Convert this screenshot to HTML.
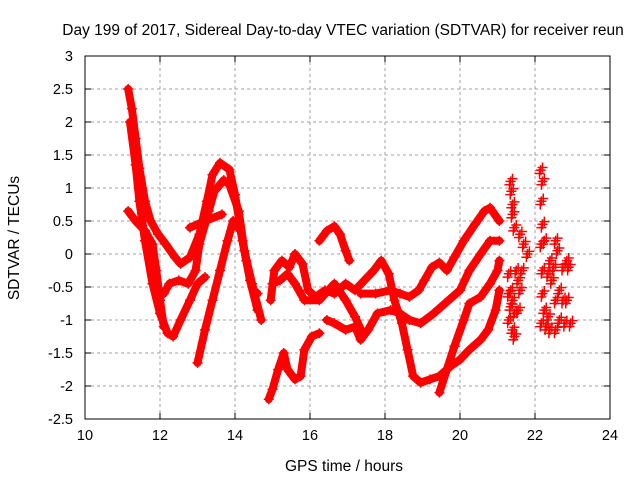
<!DOCTYPE html>
<html><head><meta charset="utf-8"><style>
body{margin:0;background:#fff;}
svg{display:block;font-family:"Liberation Sans",sans-serif;}
</style></head><body>
<svg id="chart" width="640" height="480">
<text x="343" y="35" font-size="15.5" text-anchor="middle">Day 199 of 2017, Sidereal Day-to-day VTEC variation (SDTVAR) for receiver reun</text>
<text x="344" y="471" font-size="15.5" text-anchor="middle">GPS time / hours</text>
<text transform="translate(19,238) rotate(-90)" font-size="15.5" text-anchor="middle">SDTVAR / TECUs</text>
<g id="grid"></g>
<g id="ticks"></g>
<g id="marks"></g>
<rect x="85" y="56" width="525" height="363" fill="none" stroke="#000" stroke-width="1"></rect>
</svg>
<script>
const xTicks=[10,12,14,16,18,20,22,24];
const yTicks=[3,2.5,2,1.5,1,0.5,0,-0.5,-1,-1.5,-2,-2.5];
const trackA=[[11.15,2.5],[11.25,2.2],[11.35,1.75],[11.45,1.3],[11.6,0.8],[11.75,0.5],[11.95,0.3],[12.15,0.15],[12.4,-0.05],[12.55,-0.15],[12.8,-0.05],[13.05,0.3],[13.25,0.8],[13.4,1.2],[13.6,1.38],[13.85,1.28],[14.0,0.9],[14.2,0.2],[14.4,-0.4],[14.6,-0.85]];
const trackB=[[11.2,2.0],[11.35,1.35],[11.45,0.8],[11.6,0.2],[11.8,-0.45],[12.0,-0.9],[12.2,-1.2],[12.35,-1.25],[12.55,-1.0],[12.8,-0.7],[13.0,-0.45],[13.2,-0.35]];
const trackC=[[11.15,0.65],[11.35,0.5],[11.6,0.35],[11.8,0.15],[11.9,-0.25],[12.0,-0.7],[12.1,-1.1]];
const trackC2=[[12.1,-0.6],[12.25,-0.45],[12.5,-0.4],[12.75,-0.45],[12.95,-0.25],[13.05,0.15],[13.3,0.65],[13.45,0.95],[13.7,1.12],[13.85,1.05],[14.1,0.65],[14.25,0.05],[14.45,-0.45],[14.7,-1.0]];
const trackD=[[13.0,-1.65],[13.2,-1.15],[13.4,-0.7],[13.6,-0.25],[13.8,0.2],[13.95,0.5],[14.15,0.35],[14.3,-0.1],[14.5,-0.55],[14.6,-0.6]];
const trackS=[[12.8,0.4],[13.2,0.5],[13.65,0.6]];
const trackE=[[14.95,-0.7],[15.05,-0.25],[15.25,-0.1],[15.45,-0.2],[15.6,0.0],[15.8,-0.15],[15.95,-0.55],[16.15,-0.65],[16.4,-0.55],[16.65,-0.6],[16.95,-0.45],[17.2,-0.55],[17.45,-0.4],[17.7,-0.25],[17.9,-0.1],[18.1,-0.3],[18.25,-0.7],[18.45,-1.05],[18.6,-1.45],[18.75,-1.85],[18.95,-1.95],[19.2,-1.9],[19.45,-1.85],[19.75,-1.7],[20.0,-1.6],[20.25,-1.45],[20.55,-1.3],[20.75,-1.15],[20.95,-0.85],[21.05,-0.55]];
const trackF=[[15.0,-0.45],[15.2,-0.4],[15.4,-0.3],[15.6,-0.45],[15.85,-0.7],[16.25,-0.7],[16.65,-0.45],[16.95,-0.7],[17.2,-0.95],[17.4,-1.2]];
const trackG=[[14.9,-2.2],[15.0,-2.05],[15.15,-1.75],[15.3,-1.5],[15.4,-1.75],[15.6,-1.9],[15.75,-1.85],[15.85,-1.45],[16.05,-1.25],[16.25,-1.2]];
const trackH=[[16.45,-1.0],[16.65,-1.05],[16.95,-1.15],[17.2,-1.1],[17.35,-1.3],[17.55,-1.15],[17.8,-0.9],[18.15,-0.85],[18.4,-0.9],[18.65,-1.0],[18.95,-1.05],[19.3,-0.9],[19.6,-0.75],[20.0,-0.55],[20.25,-0.25],[20.55,0.0],[20.8,0.2],[21.05,0.2]];
const trackI=[[17.35,-0.6],[17.75,-0.6],[18.15,-0.55],[18.4,-0.6],[18.65,-0.65],[18.9,-0.55],[19.05,-0.4],[19.25,-0.2],[19.45,-0.13],[19.65,-0.25],[19.85,-0.05],[20.1,0.2],[20.4,0.45],[20.65,0.65],[20.8,0.7],[21.05,0.5]];
const trackJ=[[19.45,-2.1],[19.65,-1.75],[19.85,-1.4],[20.1,-1.0],[20.25,-0.75],[20.55,-0.65],[20.8,-0.45],[21.0,-0.25],[21.05,-0.1]];
const trackK=[[16.25,0.2],[16.45,0.35],[16.65,0.42],[16.8,0.3],[16.95,0.05],[17.05,-0.1]];
const clusterR1=[[21.35,1.1],[21.37,0.95],[21.4,0.75],[21.4,0.6],[21.45,0.4],[21.6,0.3],[21.7,0.15],[21.8,0.0],[21.3,-0.3],[21.35,-0.55],[21.4,-0.7],[21.3,-1.0],[21.4,-1.15],[21.45,-1.25],[21.55,-0.85],[21.6,-0.55],[21.5,-0.25],[21.65,-0.25],[21.3,-0.6],[21.45,-0.9],[21.55,-0.4],[21.35,-0.8]];
const clusterR2=[[22.15,1.27],[22.2,1.1],[22.17,0.8],[22.2,0.45],[22.17,0.15],[22.25,0.2],[22.2,-0.25],[22.2,-0.6],[22.17,-1.05],[22.35,-0.95],[22.55,-1.15],[22.8,-1.05],[22.95,-1.05],[22.55,0.2],[22.6,0.05],[22.4,-0.1],[22.45,-0.4],[22.75,-0.2],[22.85,-0.1],[22.85,-0.7],[22.75,-0.7],[22.55,-0.7],[22.4,-1.15],[22.65,-0.55],[22.25,-0.85],[22.5,-0.2],[22.35,-0.3],[22.65,-1.0],[22.3,-1.1],[22.9,-0.2]];
const tracks=[trackA,trackB,trackC,trackC2,trackD,trackS,trackE,trackF,trackG,trackH,trackI,trackJ,trackK];
const clusters=[clusterR1,clusterR2];

const NS='http://www.w3.org/2000/svg';
const X0=85,X1=610,Y0=56,Y1=419;
const xs=h=>X0+(h-10)/(24-10)*(X1-X0);
const ys=v=>Y0+(3-v)/(3+2.5)*(Y1-Y0);
const grid=document.getElementById('grid'),ticks=document.getElementById('ticks'),marks=document.getElementById('marks');
function mk(t,a,p){const e=document.createElementNS(NS,t);for(const k in a)e.setAttribute(k,a[k]);p.appendChild(e);return e;}
xTicks.forEach(t=>{
 const x=xs(t);
 if(t>10&&t<24){const g=mk('line',{x1:x,x2:x,y1:Y0,y2:Y1,stroke:'#a0a0a0','stroke-dasharray':'3,3'},grid);
 
 }
 mk('line',{x1:x,x2:x,y1:Y1,y2:Y1-6,stroke:'#000'},ticks);mk('line',{x1:x,x2:x,y1:Y0,y2:Y0+6,stroke:'#000'},ticks);
 const l=mk('text',{x:x,y:Y1+21,'font-size':14.5,'text-anchor':'middle'},ticks);l.textContent=t;
 
 
});
yTicks.forEach(t=>{
 const y=ys(t);
 if(t<3&&t>-2.5){const g=mk('line',{x1:X0,x2:X1,y1:y,y2:y,stroke:'#a0a0a0','stroke-dasharray':'3,3'},grid);
 
 }
 mk('line',{x1:X0,x2:X0+6,y1:y,y2:y,stroke:'#000'},ticks);mk('line',{x1:X1,x2:X1-6,y1:y,y2:y,stroke:'#000'},ticks);
 const l=mk('text',{x:X0-12,y:y+5,'font-size':14.5,'text-anchor':'end'},ticks);l.textContent=t;
 
 
});
function plus(h,v){const x=xs(h),y=ys(v);
 const p=mk('path',{d:`M${x-5} ${y}H${x+5}M${x} ${y-5}V${y+5}`,stroke:'#f00','stroke-width':1.5},marks);
 
 }
tracks.forEach(tr=>{
 const pl=mk('polyline',{points:tr.map(p=>xs(p[0])+','+ys(p[1])).join(' '),fill:'none',stroke:'#f00','stroke-width':8,'stroke-linejoin':'round','stroke-linecap':'round'},marks);
 
 
 tr.forEach(p=>plus(p[0],p[1]));
});
clusters.forEach(c=>c.forEach(p=>{plus(p[0],p[1]);plus(p[0]+0.05,p[1]+0.04);plus(p[0]-0.03,p[1]-0.05);}));
</script>
</body></html>
